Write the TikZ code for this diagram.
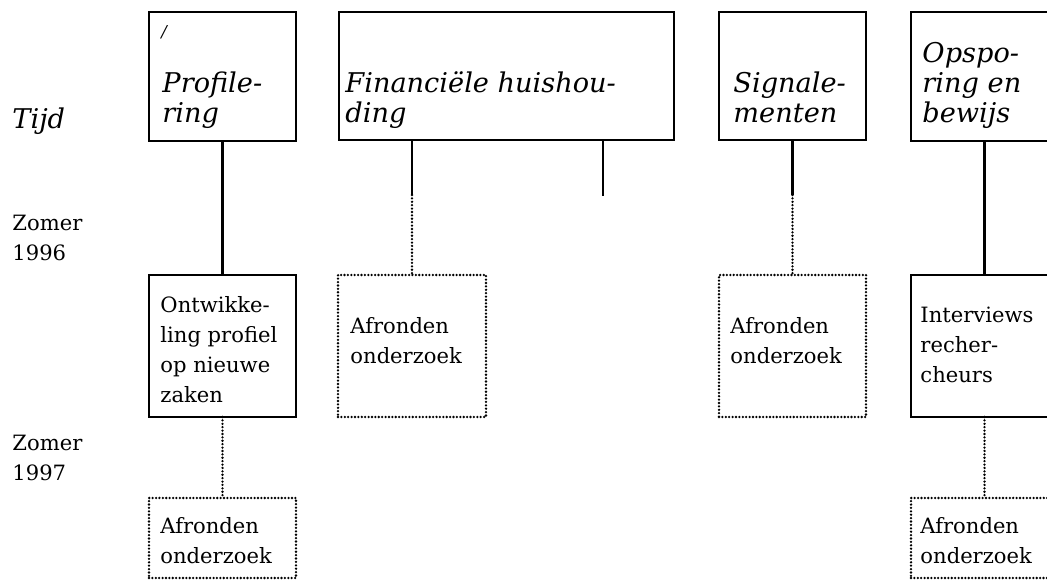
\documentclass[tikz,border=0pt]{standalone}
\usepackage{fontspec}
\setmainfont{DejaVu Serif}
\usetikzlibrary{positioning,calc}

\begin{document}
\begin{tikzpicture}[x=0.015cm,y=-0.015cm,
    topbox/.style={draw, line width=1.2pt, rectangle, inner sep=0pt, outer sep=0pt, anchor=north west},
    dotbox/.style={draw, line width=1.1pt, dash pattern=on 0pt off 1.45pt, line cap=round, rectangle, inner sep=0pt, outer sep=0pt, anchor=north west},
    conn/.style={line width=1pt},
    dotconn/.style={line width=1.1pt, dash pattern=on 0pt off 1.45pt, line cap=round},
    headtext/.style={anchor=north west, inner sep=0pt, align=left, font=\fontsize{11.6}{12.8}\selectfont\itshape},
    bodytext/.style={anchor=north west, inner sep=0pt, align=left, font=\fontsize{9}{12.8}\selectfont}]
    %Definitions%
    %===========================================================
    \def \px {0.015cm}; %one pixel of the original
    \def \Bw {147}; %width of a column box
    \useasboundingbox (0,0) rectangle (1047,580);
    %Time axis%
    %===========================================================
    \node[headtext] (tijd) at (12,107) {Tijd};
    \node[bodytext] (zomer96) at (12,215) {Zomer\\1996};
    \node[bodytext] (zomer97) at (12,435) {Zomer\\1997};
    %Top row: themes%
    %===========================================================
    \node[topbox, minimum width=\Bw*\px, minimum height=129*\px] (prof) at (149,12) {};
    \node[topbox, minimum width=335*\px, minimum height=128*\px] (fin) at (339,12) {};
    \node[topbox, minimum width=\Bw*\px, minimum height=128*\px] (sign) at (719,12) {};
    \node[topbox, minimum width=\Bw*\px, minimum height=129*\px] (opsp) at (911,12) {};
    \node[anchor=north west, inner sep=0pt, font=\fontsize{7}{7}\selectfont\itshape] (mark) at (161,25) {/};
    \node[headtext] (prof_t) at (162,71) {Profile-\\ring};
    \node[headtext] (fin_t) at (345,71) {Financiële huishou-\\ding};
    \node[headtext] (sign_t) at (733,71) {Signale-\\menten};
    \node[headtext] (opsp_t) at (922,42) {Opspo-\\ring en\\bewijs};
    %Summer 1996%
    %===========================================================
    \node[topbox, minimum width=\Bw*\px, minimum height=142*\px] (ontw) at (149,275) {};
    \node[dotbox, minimum width=148*\px, minimum height=142*\px] (finaf) at (338,275) {};
    \node[dotbox, minimum width=\Bw*\px, minimum height=142*\px] (signaf) at (719,275) {};
    \node[topbox, minimum width=\Bw*\px, minimum height=142*\px] (interv) at (911,275) {};
    \node[bodytext] (ontw_t) at (160,296) {Ontwikke-\\ling profiel\\op nieuwe\\zaken};
    \node[bodytext] (finaf_t) at (350,317) {Afronden\\onderzoek};
    \node[bodytext] (signaf_t) at (730,317) {Afronden\\onderzoek};
    \node[bodytext] (interv_t) at (920,307) {Interviews\\recher-\\cheurs};
    %Summer 1997%
    %===========================================================
    \node[dotbox, minimum width=\Bw*\px, minimum height=80*\px] (profaf) at (149,498) {};
    \node[dotbox, minimum width=\Bw*\px, minimum height=80*\px] (opspaf) at (911,498) {};
    \node[bodytext] (profaf_t) at (160,517) {Afronden\\onderzoek};
    \node[bodytext] (opspaf_t) at (920,517) {Afronden\\onderzoek};
    %Connectors%
    %===========================================================
    \draw[conn] (prof.south) -- (ontw.north);
    \draw[dotconn] (ontw.south) -- (profaf.north);
    \coordinate (fin_brk) at ($(finaf.north)+(0,-80)$); %end of solid part
    \draw[conn] (finaf.north |- fin.south) -- (fin_brk);
    \draw[dotconn] (fin_brk) -- (finaf.north);
    \coordinate (fin_end) at (603,196); %loose end
    \draw[conn] (fin_end |- fin.south) -- (fin_end);
    \coordinate (sign_brk) at ($(signaf.north)+(0,-80)$);
    \draw[conn] (sign.south) -- (sign_brk);
    \draw[dotconn] (sign_brk) -- (signaf.north);
    \draw[conn] (opsp.south) -- (interv.north);
    \draw[dotconn] (interv.south) -- (opspaf.north);
\end{tikzpicture}
\end{document}
